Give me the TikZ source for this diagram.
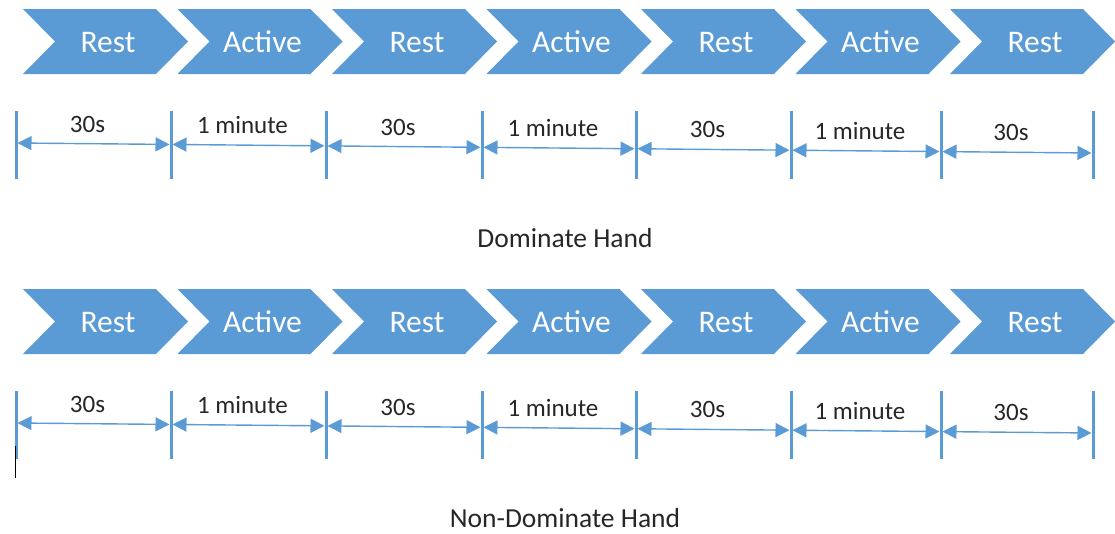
\documentclass[tikz,border=0pt]{standalone}
\usepackage{fontspec}
\setmainfont{Carlito}
\usetikzlibrary{arrows.meta,calc}

\definecolor{chevblue}{HTML}{5B9BD5}
\definecolor{labgray}{HTML}{262626}

\tikzset{
	chev/.style={fill=chevblue, draw=none},
	chevtext/.style={text=white, font=\fontsize{31.5}{36}\selectfont, inner sep=0pt, anchor=base},
	tickline/.style={draw=chevblue, line width=3pt},
	spanarrow/.style={draw=chevblue, line width=1.4pt, shorten >=1.5pt, shorten <=1.5pt,
		{Triangle[length=14pt,width=14pt]}-{Triangle[length=14pt,width=14pt]}},
	spanlabel/.style={font=\fontsize{25}{30}\selectfont, text=labgray, inner sep=0pt, anchor=base},
	handlabel/.style={font=\fontsize{27.5}{32}\selectfont, text=labgray, inner sep=0pt, anchor=base}
}

\begin{document}
\begin{tikzpicture}[x=1pt,y=-1pt]

	\useasboundingbox (0,0) rectangle (1115,533);

	\foreach \row/\dy/\hand in {a/0/Dominate Hand, b/280/Non-Dominate Hand}{

		% chevrons
		\foreach \i/\t in {0/Rest,1/Active,2/Rest,3/Active,4/Rest,5/Active,6/Rest}{
			\pgfmathsetmacro\L{23+154.5*\i}
			\draw[chev] (\L,9+\dy) -- ++(133,0) -- ++(32,32.5) -- ++(-32,32.5)
				-- ++(-133,0) -- ++(32,-32.5) -- cycle;
			\node[chevtext] (\row c\i) at (\L+85,52+\dy) {\t};
		}

		% ticks
		\foreach \x [count=\i from 0] in {16,171,326,482,636,791,941,1093}{
			\pgfmathsetmacro\yy{143+(\x-16)*10/1077+\dy}
			\coordinate (\row t\i) at (\x,\yy);
			\coordinate (\row top\i) at (\x,111+\dy);
			\coordinate (\row bot\i) at (\x,179+\dy);
			\draw[tickline] (\row top\i) -- (\row bot\i);
		}

		% spans
		\foreach \i/\t in {0/30s,1/1 minute,2/30s,3/1 minute,4/30s,5/1 minute,6/30s}{
			\pgfmathtruncatemacro\j{\i+1}
			\draw[spanarrow] (\row t\i) -- (\row t\j);
			\node[spanlabel] (\row l\i) at ($(\row t\i)!0.5!(\row t\j)+(-6,-11.5)$) {\t};
		}

		\node[handlabel] (\row hand) at (565,247+\dy) {\hand};
	}

	\draw[black, line width=0.8pt] (15,446) -- (15,478);

\end{tikzpicture}
\end{document}
